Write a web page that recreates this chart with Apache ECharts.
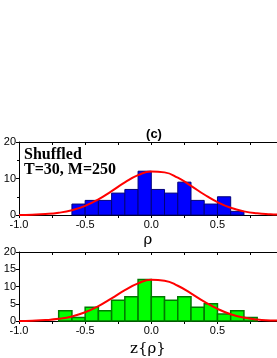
<!DOCTYPE html>
<html><head><meta charset="utf-8">
<script src="https://cdn.jsdelivr.net/npm/echarts@6/dist/echarts.min.js"></script>
<style>html,body{margin:0;padding:0;background:#fff}#c{width:277px;height:358px}</style>
</head><body><div id="c"></div>
<script>
const binWidth = 0.1;
const topBinLeft = [-0.6,-0.5,-0.4,-0.3,-0.2,-0.1,0.0,0.1,0.2,0.3,0.4,0.5,0.6];
const topCounts  = [3,4,4,6,7,12,7,6,9,4,3,5,1];
const botBinLeft = [-0.7,-0.6,-0.5,-0.4,-0.3,-0.2,-0.1,0.0,0.1,0.2,0.3,0.4,0.5,0.6,0.7];
const botCounts  = [3,1,4,3,6,7,12,7,6,7,4,5,2,3,1];
const curveX   = [-1.0,-0.9,-0.8,-0.7,-0.6,-0.5,-0.4,-0.3,-0.2,-0.1,0.0,0.1,0.2,0.3,0.4,0.5,0.6,0.7,0.8,0.9,0.95];
const topCurveY = [0.03,0.1,0.26,0.62,1.32,2.52,4.3,6.55,8.94,10.92,11.94,11.68,10.22,8.0,5.61,3.52,1.97,0.99,0.45,0.18,0.11];
const botCurveY = [0.03,0.1,0.26,0.62,1.32,2.52,4.3,6.55,8.94,10.92,11.94,11.68,10.22,8.0,5.61,3.52,1.97,0.99,0.45,0.18,0.11];
const xTicks = [-1.0,-0.5,0.0,0.5];

const chart = echarts.init(document.getElementById('c'));
function histData(lefts, counts){ return lefts.map((l,i)=>[l, l+binWidth, counts[i]]); }
function renderBar(fill, stroke, lw){
  return function(params, api){
    const p0 = api.coord([api.value(0), api.value(2)]);
    const p1 = api.coord([api.value(1), 0]);
    return {type:'rect', shape:{x:p0[0], y:p0[1], width:p1[0]-p0[0], height:p1[1]-p0[1]},
      style:{fill:fill, stroke:stroke, lineWidth:lw}};
  };
}
const lbl = {color:'#000', fontFamily:'Liberation Sans', fontSize:11};
function xAxisBottom(gi, name){
  return {type:'value', gridIndex:gi, min:-1, max:0.95, interval:0.5, position:'bottom',
    name:name, nameLocation:'middle', nameGap:gi===0?18:21,
    nameTextStyle:{color:'#000', fontFamily:'DejaVu Serif', fontSize:15},
    axisLine:{show:true, onZero:false, lineStyle:{color:'#000', width:1}},
    axisTick:{show:true, inside:false, length:3, lineStyle:{color:'#000'}},
    minorTick:{show:true, splitNumber:2, length:3, lineStyle:{color:'#000'}},
    axisLabel:Object.assign({margin:4, showMaxLabel:false, formatter:v=>xTicks.some(t=>Math.abs(t-v)<1e-6)?v.toFixed(1):''}, lbl),
    splitLine:{show:false}};
}
function xAxisTop(gi){
  return {type:'value', gridIndex:gi, min:-1, max:0.95, interval:0.5, position:'top',
    axisLine:{show:true, onZero:false, lineStyle:{color:'#000', width:1}},
    axisTick:{show:true, inside:true, length:3, lineStyle:{color:'#000'}},
    minorTick:{show:true, splitNumber:2, length:3, lineStyle:{color:'#000'}},
    axisLabel:{show:false}, splitLine:{show:false}};
}
function yAxis(gi, interval){
  return {type:'value', gridIndex:gi, min:0, max:20, interval:interval, position:'left',
    axisLine:{show:true, onZero:false, lineStyle:{color:'#000', width:1}},
    axisTick:{show:true, inside:false, length:3, lineStyle:{color:'#000'}},
    minorTick:{show:interval===10, splitNumber:2, length:2, lineStyle:{color:'#000'}},
    axisLabel:Object.assign({margin:3}, lbl),
    splitLine:{show:false}};
}
chart.setOption({
  animation:false,
  title:{text:'(c)', left:149, top:123, textAlign:'center',
    textStyle:{fontFamily:'Liberation Sans', fontWeight:'bold', fontSize:13, color:'#000'}},
  graphic:[
    {type:'text', left:24, top:147, style:{text:'Shuffled\nT=30, M=250', fill:'#000',
      font:'bold 16px "Liberation Serif"', lineHeight:15}}
  ],
  grid:[
    {left:19, right:-1, top:142, height:73},
    {left:19, right:-1, top:252, height:74}
  ],
  xAxis:[xAxisBottom(0,'ρ'), xAxisTop(0), xAxisBottom(1,'z{ρ}'), xAxisTop(1)],
  yAxis:[yAxis(0,10), yAxis(1,5)],
  series:[
    {type:'custom', xAxisIndex:0, yAxisIndex:0, data:histData(topBinLeft, topCounts),
      renderItem:renderBar('#0000FF', '#00007A', 1), encode:{x:[0,1], y:2}, z:2},
    {type:'line', xAxisIndex:0, yAxisIndex:0, data:curveX.map((x,i)=>[x, topCurveY[i]]),
      smooth:true, symbol:'none', lineStyle:{color:'#FF0000', width:2}, z:3},
    {type:'custom', xAxisIndex:2, yAxisIndex:1, data:histData(botBinLeft, botCounts),
      renderItem:renderBar('#00FF00', '#007A00', 1.5), encode:{x:[0,1], y:2}, z:2},
    {type:'line', xAxisIndex:2, yAxisIndex:1, data:curveX.map((x,i)=>[x, botCurveY[i]]),
      smooth:true, symbol:'none', lineStyle:{color:'#FF0000', width:2}, z:3}
  ]
});
</script></body></html>
